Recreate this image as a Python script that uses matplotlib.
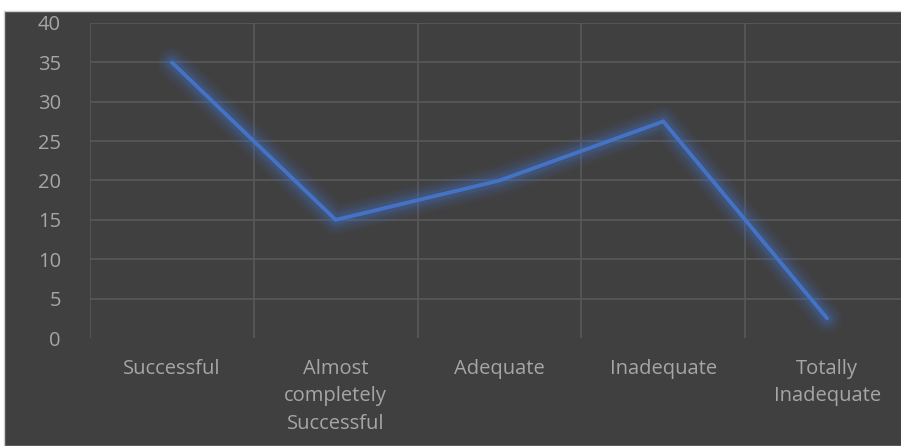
import matplotlib
matplotlib.use("Agg")
import matplotlib.pyplot as plt
from matplotlib.patches import Rectangle

categories = ["Successful", "Almost\ncompletely\nSuccessful", "Adequate",
              "Inadequate", "Totally\nInadequate"]
values = [35, 15, 20, 27.5, 2.5]
y_ticks = [0, 5, 10, 15, 20, 25, 30, 35, 40]

bg = "#404040"
grid_c = "#595959"
text_c = "#a6a6a6"
line_c = "#4472c4"

W, H = 901, 446
fig = plt.figure(figsize=(W / 100, H / 100), dpi=100)
fig.patch.set_facecolor("white")

# dark chart area (cropped screenshot: white strip top/left)
fig.patches.append(Rectangle((4 / W, 0), 1, (H - 11) / H, transform=fig.transFigure,
                             facecolor=bg, edgecolor="#d0d0d0", linewidth=1, zorder=-5))

ax = fig.add_axes([90 / W, (H - 338) / H, 819 / W, 315 / H])
ax.set_zorder(1)
ax.patch.set_alpha(0)

x = list(range(len(categories)))

# soft glow under the line
for lw, a in [(22, 0.06), (18, 0.07), (14, 0.09), (10.5, 0.12), (7.5, 0.16)]:
    ax.plot(x, values, color=line_c, linewidth=lw, alpha=a,
            solid_capstyle="round", solid_joinstyle="round", zorder=2)
ax.plot(x, values, color=line_c, linewidth=2.8, solid_capstyle="round",
        solid_joinstyle="miter", zorder=3)

ax.set_xlim(-0.5, len(categories) - 0.5)
ax.set_ylim(0, 40)
ax.set_yticks(y_ticks)
ax.set_xticks(x)
ax.set_xticklabels(categories, linespacing=1.5, va="top")

# vertical gridlines at category boundaries
for b in [i - 0.5 for i in range(len(categories) + 1)]:
    ax.axvline(b, color=grid_c, linewidth=1.2, zorder=1)
for t in y_ticks[1:]:
    ax.axhline(t, color=grid_c, linewidth=1.2, zorder=1)

for s in ax.spines.values():
    s.set_visible(False)
ax.tick_params(axis="both", length=0, colors=text_c, labelsize=14.5)
ax.tick_params(axis="y", pad=21)
ax.tick_params(axis="x", pad=15)
for lab in ax.get_xticklabels() + ax.get_yticklabels():
    lab.set_fontfamily("Open Sans")

fig.savefig("out.png", dpi=100, facecolor=fig.get_facecolor())
